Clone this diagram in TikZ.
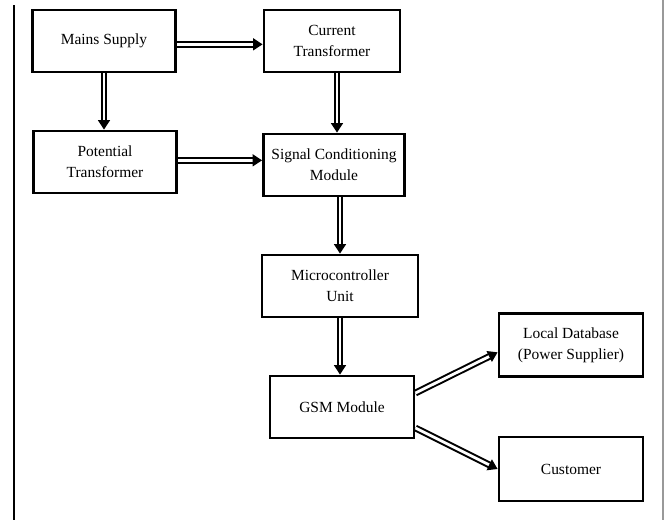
\documentclass[tikz,border=0pt]{standalone}
\usepackage{fontspec}
\setmainfont{Liberation Serif}
\usetikzlibrary{arrows.meta}
\tikzset{
  block/.style={draw, line width=2.4pt, align=center, font=\fontsize{13.2}{18}\selectfont,
    minimum width=4.3cm, minimum height=1.86cm, inner sep=2pt},
  dblarrow/.style={double, line width=1.7pt, double distance=2.4pt,
    -{Triangle[length=8pt,width=10pt]}}
}
\begin{document}
\begin{tikzpicture}[x=0.03cm, y=-0.03cm]
  \useasboundingbox (0,0) rectangle (667,520);
  % page frame
  \draw[line width=1.4pt] (14,5) -- (14,520);
  \draw[line width=2.2pt, black!40] (663,0) -- (663,520);

  \node[block] (mains) at (104,41) {Mains Supply};
  \node[block, minimum width=4.08cm] (ct) at (332,41) {Current\\Transformer};
  \node[block] (pt) at (105,162) {Potential\\Transformer};
  \node[block, minimum width=4.23cm] (scm) at (334,165) {Signal Conditioning\\Module};
  \node[block, minimum width=4.68cm] (mcu) at (340,286) {Microcontroller\\Unit};
  \node[block, minimum width=4.32cm] (gsm) at (342,407) {GSM Module};
  \node[block, minimum width=4.32cm, minimum height=1.89cm] (db) at (571,345) {Local Database\\(Power Supplier)};
  \node[block, minimum width=4.32cm, minimum height=1.92cm] (cust) at (571,469) {Customer};

  \draw[dblarrow] ([yshift=-0.1cm]mains.east) -- ([yshift=-0.1cm]mains.east -| ct.west);
  \draw[dblarrow] (mains.south) -- (mains.south |- pt.north);
  \draw[dblarrow] ([xshift=0.15cm]ct.south) -- ([xshift=0.15cm]ct.south |- scm.north);
  \draw[dblarrow] ([yshift=0.05cm]pt.east) -- ([yshift=0.05cm]pt.east -| scm.west);
  \draw[dblarrow] ([xshift=0.18cm]scm.south) -- ([xshift=0.18cm]scm.south |- mcu.north);
  \draw[dblarrow] (mcu.south) -- (mcu.south |- gsm.north);
  \draw[dblarrow] ([yshift=0.42cm]gsm.east) -- ([yshift=-0.22cm]db.west);
  \draw[dblarrow] ([yshift=-0.63cm]gsm.east) -- (cust.west);
\end{tikzpicture}
\end{document}
